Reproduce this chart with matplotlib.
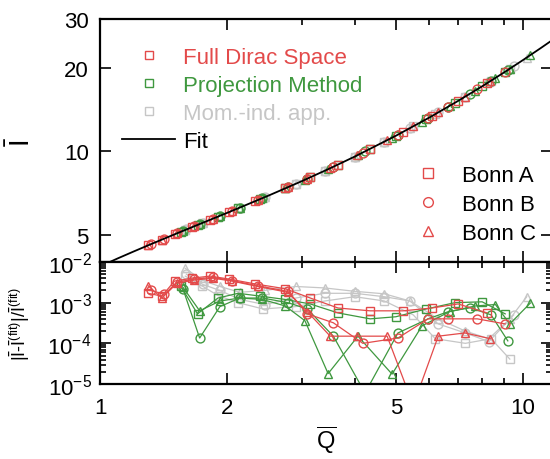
import matplotlib
matplotlib.use("Agg")
import matplotlib.pyplot as plt
from matplotlib.lines import Line2D
from matplotlib.ticker import FixedLocator, NullFormatter, ScalarFormatter, LogLocator, NullLocator

plt.rcParams['font.family'] = ['Liberation Sans', 'DejaVu Sans']
plt.rcParams['mathtext.fontset'] = 'custom'
plt.rcParams['mathtext.rm'] = 'Liberation Sans'
plt.rcParams['mathtext.it'] = 'Liberation Sans:italic'
plt.rcParams['mathtext.default'] = 'regular'

# ---------------- data ----------------
# Full Dirac Space (red)
fds_A_Q = [1.30, 1.40, 1.50, 1.65, 1.82, 2.02, 2.32, 2.74, 3.14, 3.65, 4.35, 5.20, 6.09, 7.02, 8.22]
fds_A_I = [4.59, 4.82, 5.03, 5.34, 5.67, 6.06, 6.61, 7.36, 8.07, 8.97, 10.21, 11.76, 13.42, 15.21, 17.62]
fds_A_R = [1.7e-3, 1.45e-3, 3.4e-3, 4.0e-3, 4.5e-3, 3.8e-3, 2.9e-3, 2.2e-3, 1.3e-3, 7.4e-4, 6.3e-4, 6.3e-4, 7.4e-4, 9.3e-4, 5.6e-4]

fds_B_Q = [1.32, 1.42, 1.52, 1.67, 1.85, 2.05, 2.36, 2.78, 3.09, 3.56, 4.18, 5.06, 5.96, 6.65, 7.79, 9.07]
fds_B_I = [4.64, 4.86, 5.07, 5.38, 5.73, 6.11, 6.68, 7.43, 7.98, 8.81, 9.91, 11.50, 13.17, 14.49, 16.74, 19.38]
fds_B_R = [2.0e-3, 1.6e-3, 3.2e-3, 3.8e-3, 4.2e-3, 3.5e-3, 2.6e-3, 1.9e-3, 5.3e-4, 3.2e-4, 1.0e-4, 1.35e-4, 4.0e-4, 4.0e-4, 4.0e-4, 3.0e-4]

fds_C_Q = [1.30, 1.40, 1.52, 1.67, 1.85, 2.05, 2.36, 2.78, 3.09, 3.50, 4.05, 4.77, 5.50, 6.30, 7.29, 8.36]
fds_C_I = [4.59, 4.82, 5.07, 5.38, 5.73, 6.11, 6.68, 7.43, 7.98, 8.70, 9.68, 10.97, 12.31, 13.82, 15.74, 17.90]
fds_C_R = [2.6e-3, 1.3e-3, 3.0e-3, 3.6e-3, 4.0e-3, 3.4e-3, 2.5e-3, 1.8e-3, 6.0e-4, 1.5e-4, 1.5e-4, 1.5e-4, 3.0e-6, 1.5e-4, 1.8e-4, 1.3e-4]

# Projection Method (green)
pm_A_Q = [1.55, 1.70, 1.90, 2.12, 2.39, 2.74, 3.14, 3.65, 4.35, 5.00, 5.90, 6.90, 8.00, 9.07]
pm_A_I = [5.13, 5.44, 5.83, 6.24, 6.74, 7.36, 8.07, 8.97, 10.21, 11.39, 13.06, 14.98, 17.17, 19.38]
pm_A_R = [2.6e-3, 5.3e-4, 1.3e-3, 1.7e-3, 1.45e-3, 1.2e-3, 9.3e-4, 5.6e-4, 4.0e-4, 4.5e-4, 7.0e-4, 1.0e-3, 1.05e-3, 5.3e-4]

pm_B_Q = [1.57, 1.72, 1.92, 2.14, 2.42, 2.78, 3.09, 3.56, 4.23, 5.06, 5.96, 6.65, 7.50, 8.40, 9.20]
pm_B_I = [5.18, 5.48, 5.87, 6.28, 6.79, 7.43, 7.98, 8.81, 10.00, 11.50, 13.17, 14.49, 16.16, 17.99, 19.65]
pm_B_R = [2.2e-3, 1.35e-4, 8.0e-4, 1.3e-3, 1.3e-3, 1.0e-3, 7.0e-4, 1.5e-4, 6.0e-6, 1.8e-4, 4.0e-4, 6.0e-4, 7.5e-4, 5.0e-4, 1.15e-4]

pm_C_Q = [1.57, 1.72, 1.92, 2.14, 2.42, 2.74, 3.05, 3.46, 4.07, 4.90, 5.77, 6.70, 7.70, 8.60, 9.30, 10.40]
pm_C_I = [5.18, 5.48, 5.87, 6.28, 6.79, 7.36, 7.91, 8.63, 9.71, 11.21, 12.81, 14.59, 16.56, 18.40, 19.87, 22.24]
pm_C_R = [2.4e-3, 6.3e-4, 1.1e-3, 1.3e-3, 1.2e-3, 8.3e-4, 3.6e-4, 1.8e-5, 1.5e-4, 1.75e-5, 2.7e-4, 6.0e-4, 8.3e-4, 9.0e-4, 3.0e-4, 9.8e-4]

# Momentum-independent approximation (gray)
mi_A_Q = [1.59, 1.74, 1.90, 2.12, 2.43, 2.90, 3.40, 4.00, 4.70, 5.50, 6.20, 7.30, 8.40, 9.30]
mi_A_I = [5.22, 5.52, 5.83, 6.24, 6.81, 7.65, 8.53, 9.59, 10.84, 12.31, 13.63, 15.76, 17.99, 19.87]
mi_A_R = [4.5e-3, 2.6e-3, 1.5e-3, 1.0e-3, 7.0e-4, 8.0e-4, 1.1e-3, 1.4e-3, 1.1e-3, 5.0e-4, 1.3e-4, 1.0e-4, 1.3e-4, 4.1e-5]

mi_B_Q = [1.60, 1.75, 1.92, 2.14, 2.45, 2.90, 3.40, 4.00, 4.70, 5.40, 6.30, 7.30, 8.30, 9.50]
mi_B_I = [5.24, 5.54, 5.87, 6.28, 6.84, 7.65, 8.53, 9.59, 10.84, 12.12, 13.82, 15.76, 17.78, 20.29]
mi_B_R = [5.0e-3, 2.8e-3, 2.0e-3, 1.2e-3, 9.0e-4, 1.3e-3, 1.7e-3, 1.7e-3, 1.4e-3, 1.1e-3, 3.0e-4, 1.8e-4, 1.1e-4, 5.0e-4]

mi_C_Q = [1.59, 1.75, 1.92, 2.14, 2.45, 2.90, 3.40, 4.00, 4.70, 5.40, 6.30, 7.30, 8.30, 9.30, 10.20]
mi_C_I = [5.22, 5.54, 5.87, 6.28, 6.84, 7.65, 8.53, 9.59, 10.84, 12.12, 13.82, 15.76, 17.78, 19.87, 21.80]
mi_C_R = [7.0e-3, 3.5e-3, 2.5e-3, 1.8e-3, 2.0e-3, 2.5e-3, 2.3e-3, 1.9e-3, 1.65e-3, 1.1e-3, 4.0e-4, 2.0e-4, 1.3e-4, 4.0e-4, 1.4e-3]

# Fit curve
fit_Q = [1.0, 1.1, 1.2, 1.3, 1.5, 1.7, 2.0, 2.5, 3.0, 3.5, 4.0, 5.0, 6.0, 7.0, 8.0, 9.0, 10.0, 11.0, 12.0]
fit_I = [3.857, 4.118, 4.362, 4.594, 5.030, 5.439, 6.017, 6.934, 7.822, 8.704, 9.588, 11.389,
         13.247, 15.173, 17.168, 19.231, 21.363, 23.562, 25.826]

method_labels = ["Full Dirac Space", "Projection Method", "Mom.-ind. app."]
bonn_labels = ["Bonn A", "Bonn B", "Bonn C"]
x_ticks = [1, 2, 5, 10]
x_minor = [3, 4, 6, 7, 8, 9]
y_ticks_top = [5, 10, 20, 30]

RED = '#e34a4a'
GREEN = '#3f983f'
GRAY = '#c6c6c6'

series = [
    (GRAY, [(mi_A_Q, mi_A_I, mi_A_R, 's'), (mi_B_Q, mi_B_I, mi_B_R, 'o'), (mi_C_Q, mi_C_I, mi_C_R, '^')]),
    (GREEN, [(pm_A_Q, pm_A_I, pm_A_R, 's'), (pm_B_Q, pm_B_I, pm_B_R, 'o'), (pm_C_Q, pm_C_I, pm_C_R, '^')]),
    (RED, [(fds_A_Q, fds_A_I, fds_A_R, 's'), (fds_B_Q, fds_B_I, fds_B_R, 'o'), (fds_C_Q, fds_C_I, fds_C_R, '^')]),
]

# ---------------- figure ----------------
W, H = 550, 460
fig = plt.figure(figsize=(W / 100, H / 100), dpi=100)
left_px, right_px = 100, 552
top_px, mid_px, bot_px = 20, 263, 385
ax1 = fig.add_axes([left_px / W, 1 - mid_px / H, (right_px - left_px) / W, (mid_px - top_px) / H])
ax2 = fig.add_axes([left_px / W, 1 - bot_px / H, (right_px - left_px) / W, (bot_px - mid_px) / H])

ms = 6.4
for color, lst in series:
    for Q, I, R, m in lst:
        ax1.plot(Q, I, linestyle='none', marker=m, ms=ms, mfc='none', mec=color, mew=1.0)
        ax2.plot(Q, R, linestyle='-', lw=0.9, color=color, marker=m, ms=ms, mfc='none', mec=color, mew=1.0)

ax1.plot(fit_Q, fit_I, color='black', lw=1.3, zorder=5)

xmax = 11.7
for ax in (ax1, ax2):
    ax.set_xscale('log')
    ax.set_yscale('log')
    ax.set_xlim(1, xmax)
    ax.xaxis.set_major_locator(FixedLocator(x_ticks))
    ax.xaxis.set_minor_locator(FixedLocator(x_minor))
    ax.xaxis.set_minor_formatter(NullFormatter())
    ax.tick_params(which='both', direction='in', top=True, right=True, labelsize=16, width=1.2)
    ax.tick_params(which='major', length=8)
    ax.tick_params(which='minor', length=4.5)
    for s in ax.spines.values():
        s.set_linewidth(1.6)

ax1.set_ylim(4.0, 30)
ax1.yaxis.set_major_locator(FixedLocator(y_ticks_top))
ax1.yaxis.set_major_formatter(ScalarFormatter())
ax1.yaxis.set_minor_locator(NullLocator())
ax1.tick_params(axis='x', labelbottom=False)
ax1.tick_params(axis='y', pad=8)

ax2.set_ylim(1e-5, 1e-2)
ax2.yaxis.set_major_locator(LogLocator(base=10, numticks=10))
ax2.yaxis.set_minor_locator(LogLocator(base=10, subs=range(2, 10), numticks=10))
ax2.yaxis.set_minor_formatter(NullFormatter())
ax2.xaxis.set_major_formatter(ScalarFormatter())
ax2.tick_params(axis='x', pad=9)
ax2.tick_params(axis='y', pad=6)

ax1.set_ylabel(r'$\bar{\mathrm{I}}$', fontsize=20)
ax1.yaxis.set_label_coords(-0.142, 0.50)
ax2.set_ylabel(r'$|\bar{\mathrm{I}}$-$\bar{\mathrm{I}}^{(\mathrm{fit})}|/\bar{\mathrm{I}}^{(\mathrm{fit})}$', fontsize=13)
ax2.yaxis.set_label_coords(-0.150, 0.50)
ax2.set_xlabel(r'$\overline{\mathrm{Q}}$', fontsize=17)
ax2.xaxis.set_label_coords(0.5, -0.33)

# legends
h1 = [Line2D([], [], ls='none', marker='s', ms=6, mfc='none', mec=RED, mew=1.0),
      Line2D([], [], ls='none', marker='s', ms=6, mfc='none', mec=GREEN, mew=1.0),
      Line2D([], [], ls='none', marker='s', ms=6, mfc='none', mec=GRAY, mew=1.0),
      Line2D([], [], color='black', lw=1.3)]
leg1 = ax1.legend(h1, method_labels + ["Fit"], loc='upper left', bbox_to_anchor=(122 / W, 1 - 48 / H),
                  bbox_transform=fig.transFigure, frameon=False, borderpad=0, borderaxespad=0,
                  handlelength=2.4, handletextpad=0.35, labelspacing=0.31, fontsize=16, numpoints=1,
                  labelcolor=[RED, GREEN, GRAY, 'black'])
ax1.add_artist(leg1)
h2 = [Line2D([], [], ls='none', marker=m, ms=7, mfc='none', mec=RED, mew=1.0) for m in ['s', 'o', '^']]
ax1.legend(h2, bonn_labels, loc='upper left', bbox_to_anchor=(401 / W, 1 - 166 / H),
           bbox_transform=fig.transFigure, frameon=False, borderpad=0, borderaxespad=0,
           handlelength=2.4, handletextpad=0.35, labelspacing=0.35, fontsize=16, numpoints=1)

fig.savefig('out.png', dpi=100)
